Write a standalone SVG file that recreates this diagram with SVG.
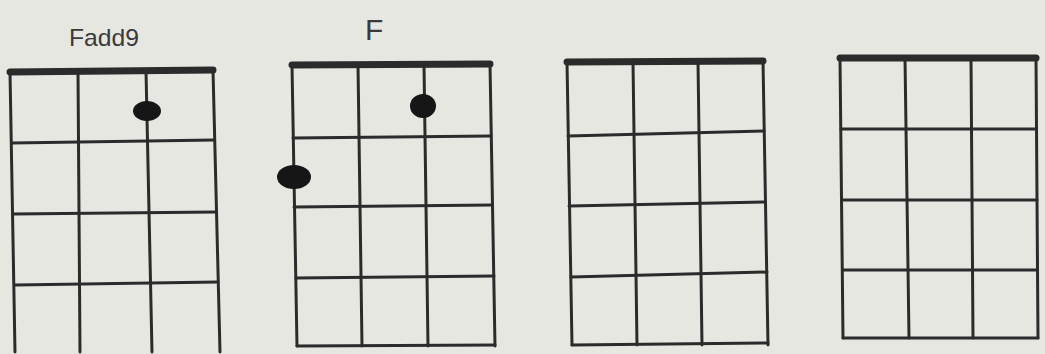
<svg xmlns="http://www.w3.org/2000/svg" width="1045" height="354" viewBox="0 0 1045 354">
<defs>
<style>
.bg{fill:#e7e7e2}
.ln{stroke:#2b2b2b;stroke-width:3;fill:none;stroke-linecap:round}
.nut{stroke:#2b2b2b;stroke-width:7;fill:none;stroke-linecap:round}
.dot{fill:#161616}
.lbl{font-family:"Liberation Sans",Arial,sans-serif;fill:#3a3a3a;font-weight:normal}
</style>
</defs>
<rect class="bg" x="0" y="0" width="1045" height="354"/>

<g id="chord1">
<text class="lbl" x="69" y="46" font-size="24" textLength="70" lengthAdjust="spacingAndGlyphs">Fadd9</text>
<path class="nut" d="M10 72 L213 70"/>
<path class="ln" d="M10 72 L15 352 M78 72 L80 352 M146 71 L152 352 M213 70 L220 352"/>
<path class="ln" d="M12 143 L214 140 M13 214 L216 212 M15 285 L218 282"/>
<ellipse class="dot" cx="147" cy="111" rx="14" ry="10"/>
</g>

<g id="chord2">
<text class="lbl" x="365" y="40" font-size="30">F</text>
<path class="nut" d="M292 65 L490 64"/>
<path class="ln" d="M292 65 L297 346 M358 65 L362 346 M424 65 L428 346 M490 64 L495 346"/>
<path class="ln" d="M293 138 L491 136 M294 207 L492 205 M296 278 L494 276 M297 346 L495 345"/>
<ellipse class="dot" cx="423" cy="106" rx="13" ry="12"/>
<ellipse class="dot" cx="294" cy="177" rx="17" ry="12"/>
</g>

<g id="chord3">
<path class="nut" d="M567 62 L763 61"/>
<path class="ln" d="M567 62 L572 345 M633 62 L637 345 M698 62 L702 345 M763 61 L768 345"/>
<path class="ln" d="M568 136 L764 131 M569 206 L765 202 M571 277 L767 272 M572 345 L768 343"/>
</g>

<g id="chord4">
<path class="nut" d="M840 58 L1036 58"/>
<path class="ln" d="M840 58 L843 338 M905 58 L909 338 M971 58 L973 338 M1036 58 L1038 338"/>
<path class="ln" d="M841 129 L1036 129 M842 200 L1037 200 M843 270 L1037 270 M843 338 L1038 338"/>
</g>

<g id="connectors"></g>
</svg>
